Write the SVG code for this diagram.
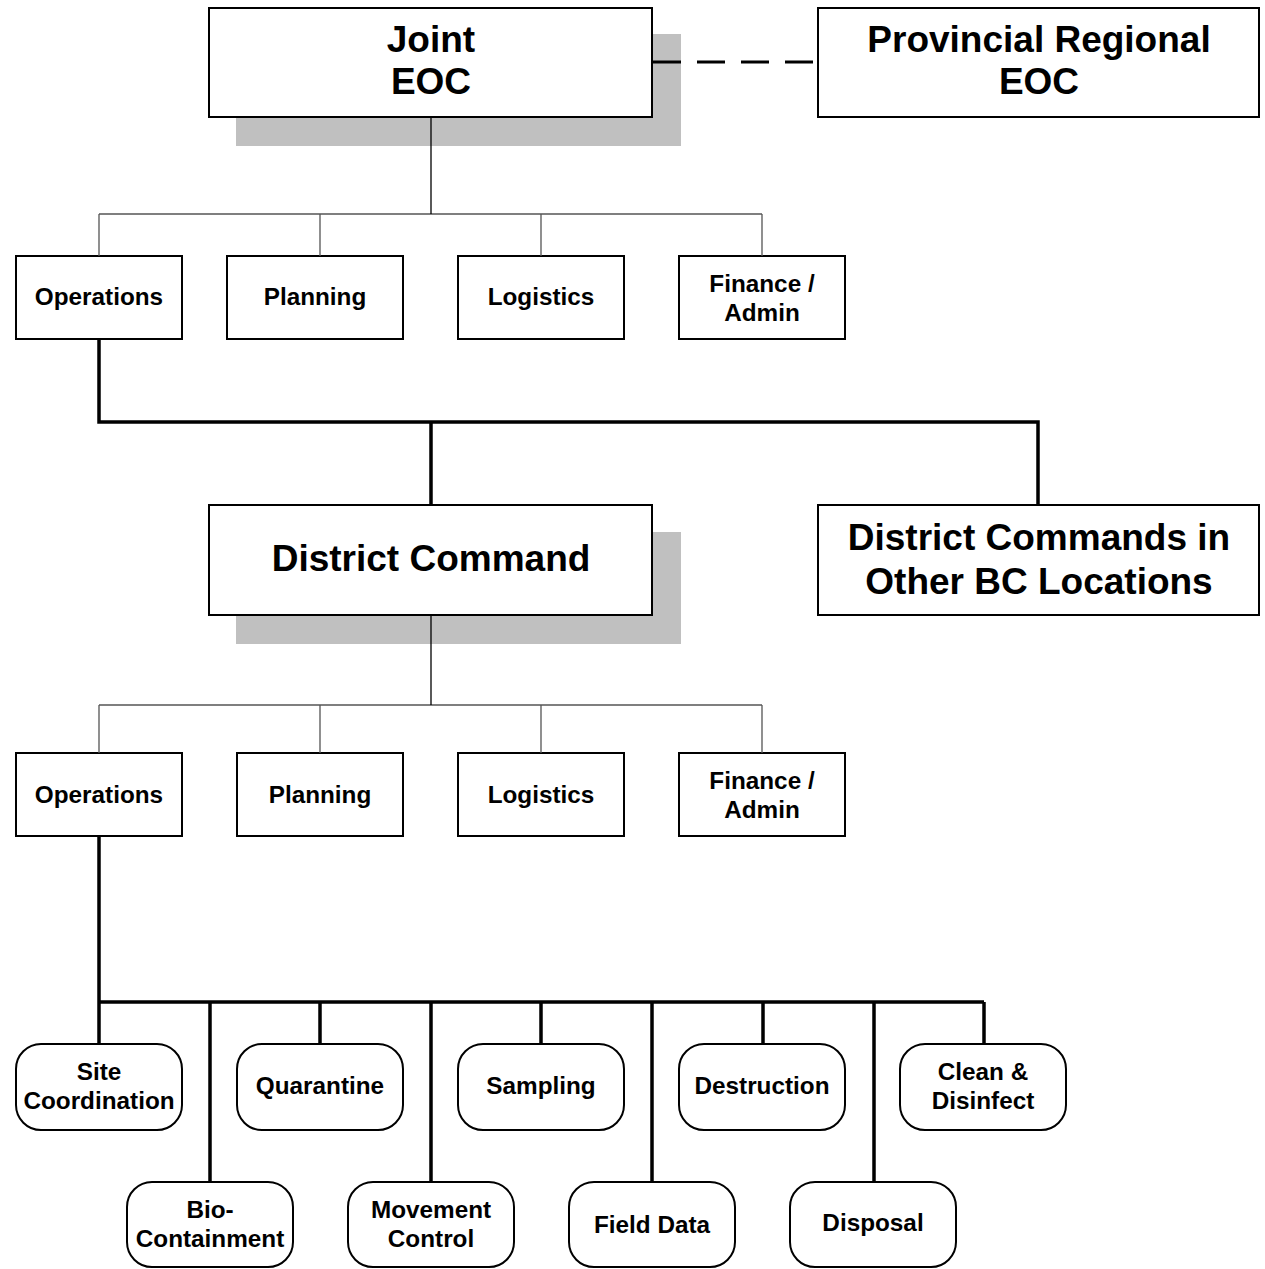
<svg xmlns="http://www.w3.org/2000/svg" width="1265" height="1269" viewBox="0 0 1265 1269">
<style>
.box{fill:#fff;stroke:#000;stroke-width:2}
.shadow{fill:#c0c0c0;stroke:none}
.thin{fill:none;stroke:#555;stroke-width:1.3}
.thick{fill:none;stroke:#000;stroke-width:3.5}
.dash{fill:none;stroke:#000;stroke-width:3;stroke-dasharray:28 16}
text{font-family:"Liberation Sans",Arial,sans-serif;font-weight:bold;fill:#000;text-anchor:middle}
.big{font-size:37px}
.sm{font-size:24.3px}
</style>
<rect width="1265" height="1269" fill="#fff"/>
<g id="joint-eoc">
<rect class="shadow" x="236" y="34" width="445" height="112"/>
<rect class="box" x="209" y="8" width="443" height="109"/>
<text class="big" x="431" y="52">Joint</text>
<text class="big" x="431" y="94">EOC</text>
</g>
<g id="provincial-eoc">
<rect class="box" x="818" y="8" width="441" height="109"/>
<text class="big" x="1039" y="52">Provincial Regional</text>
<text class="big" x="1039" y="94">EOC</text>
</g>
<g id="ops1"><rect class="box" x="16" y="256" width="166" height="83"/><text class="sm" x="99" y="305">Operations</text></g>
<g id="plan1"><rect class="box" x="227" y="256" width="176" height="83"/><text class="sm" x="315" y="305">Planning</text></g>
<g id="log1"><rect class="box" x="458" y="256" width="166" height="83"/><text class="sm" x="541" y="305">Logistics</text></g>
<g id="fin1"><rect class="box" x="679" y="256" width="166" height="83"/><text class="sm" x="762" y="292">Finance /</text><text class="sm" x="762" y="321">Admin</text></g>
<g id="district-command">
<rect class="shadow" x="236" y="532" width="445" height="112"/>
<rect class="box" x="209" y="505" width="443" height="110"/>
<text class="big" x="431" y="571">District Command</text>
</g>
<g id="district-other">
<rect class="box" x="818" y="505" width="441" height="110"/>
<text class="big" x="1039" y="550">District Commands in</text>
<text class="big" x="1039" y="594">Other BC Locations</text>
</g>
<g id="ops2"><rect class="box" x="16" y="753" width="166" height="83"/><text class="sm" x="99" y="803">Operations</text></g>
<g id="plan2"><rect class="box" x="237" y="753" width="166" height="83"/><text class="sm" x="320" y="803">Planning</text></g>
<g id="log2"><rect class="box" x="458" y="753" width="166" height="83"/><text class="sm" x="541" y="803">Logistics</text></g>
<g id="fin2"><rect class="box" x="679" y="753" width="166" height="83"/><text class="sm" x="762" y="789">Finance /</text><text class="sm" x="762" y="818">Admin</text></g>
<g id="site"><rect class="box" x="16" y="1044" width="166" height="86" rx="25"/><text class="sm" x="99" y="1080">Site</text><text class="sm" x="99" y="1109">Coordination</text></g>
<g id="quarantine"><rect class="box" x="237" y="1044" width="166" height="86" rx="25"/><text class="sm" x="320" y="1094">Quarantine</text></g>
<g id="sampling"><rect class="box" x="458" y="1044" width="166" height="86" rx="25"/><text class="sm" x="541" y="1094">Sampling</text></g>
<g id="destruction"><rect class="box" x="679" y="1044" width="166" height="86" rx="25"/><text class="sm" x="762" y="1094">Destruction</text></g>
<g id="clean"><rect class="box" x="900" y="1044" width="166" height="86" rx="25"/><text class="sm" x="983" y="1080">Clean &amp;</text><text class="sm" x="983" y="1109">Disinfect</text></g>
<g id="bio"><rect class="box" x="127" y="1182" width="166" height="85" rx="25"/><text class="sm" x="210" y="1218">Bio-</text><text class="sm" x="210" y="1247">Containment</text></g>
<g id="movement"><rect class="box" x="348" y="1182" width="166" height="85" rx="25"/><text class="sm" x="431" y="1218">Movement</text><text class="sm" x="431" y="1247">Control</text></g>
<g id="field"><rect class="box" x="569" y="1182" width="166" height="85" rx="25"/><text class="sm" x="652" y="1233">Field Data</text></g>
<g id="disposal"><rect class="box" x="790" y="1182" width="166" height="85" rx="25"/><text class="sm" x="873" y="1231">Disposal</text></g>
<g id="connectors">
<line class="dash" x1="653" y1="62" x2="818" y2="62"/>
<path class="thin" d="M99 214H762M99 214V256M320 214V256M541 214V256M762 214V256"/>
<path class="thin" style="stroke:#000" d="M431 118V214"/>
<path class="thick" d="M99 340V422H1038V504M431 422V504"/>
<path class="thin" d="M99 705H762M99 705V753M320 705V753M541 705V753M762 705V753"/>
<path class="thin" style="stroke:#000" d="M431 616V705"/>
<path class="thick" d="M99 837V1002M99 1002H984M99 1002V1043M210 1002V1181M320 1002V1043M431 1002V1181M541 1002V1043M652 1002V1181M763 1002V1043M874 1002V1181M984 1002V1043"/>
</g>
</svg>
